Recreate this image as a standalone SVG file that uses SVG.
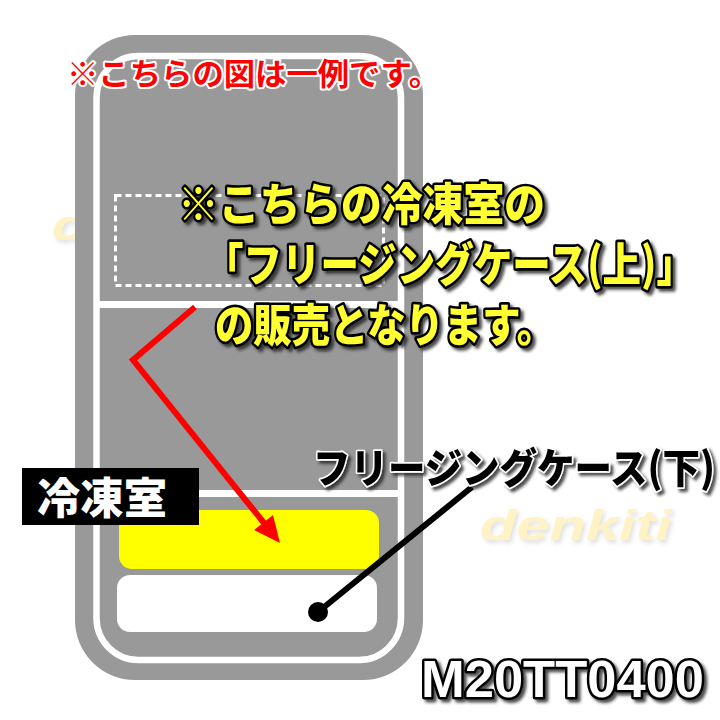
<svg xmlns="http://www.w3.org/2000/svg" width="720" height="720" viewBox="0 0 720 720">
<defs>
<style>
.jp{font-family:"Noto Sans CJK JP","Noto Sans",sans-serif;}
.wm{font-family:"Liberation Sans",Arial,sans-serif;font-weight:bold;font-style:italic;font-size:42px;fill:#fff2c4;}
.yel{fill:#ffff33;stroke:#000;stroke-width:4.5;paint-order:stroke;stroke-linejoin:round;font-weight:900;}
</style>
<filter id="sh" x="-10%" y="-20%" width="130%" height="150%">
<feDropShadow dx="3" dy="3" stdDeviation="1.5" flood-color="#222" flood-opacity="0.8"/>
</filter>
<filter id="wsh" x="-10%" y="-20%" width="130%" height="150%">
<feDropShadow dx="2" dy="3" stdDeviation="2" flood-color="#ccc" flood-opacity="0.6"/>
</filter>
</defs>
<rect width="720" height="720" fill="#fff"/>
<g id="watermarks" filter="url(#wsh)">
<text class="wm" x="52" y="240" textLength="190" lengthAdjust="spacingAndGlyphs">denkiti</text>
<text class="wm" x="480" y="540" textLength="192" lengthAdjust="spacingAndGlyphs">denkiti</text>
</g>
<g id="fridge">
<rect x="75" y="35" width="348" height="645" rx="60" fill="#999"/>
<rect x="96.5" y="56" width="304.5" height="604" rx="42" fill="#999" stroke="#fff" stroke-width="6.5"/>
<line x1="96" y1="304.5" x2="401" y2="304.5" stroke="#fff" stroke-width="7"/>
<line x1="96" y1="493.5" x2="401" y2="493.5" stroke="#fff" stroke-width="7"/>
<rect x="115.5" y="195.5" width="268" height="90" fill="none" stroke="#fff" stroke-width="3" stroke-dasharray="6 4"/>
</g>
<g id="case-upper">
<rect x="119" y="510" width="260" height="59" rx="13" fill="#ffff00"/>
</g>
<g id="case-lower">
<rect x="117" y="575" width="260" height="57" rx="13" fill="#fff"/>
</g>
<g id="note-top">
<text class="jp" x="67" y="85" font-size="31" font-weight="700" fill="#ff0000" stroke="#fff" stroke-width="4" paint-order="stroke" stroke-linejoin="round" textLength="373" lengthAdjust="spacingAndGlyphs">※こちらの図は一例です。</text>
</g>
<g id="freezer-label">
<rect x="22" y="468" width="177" height="57" fill="#000"/>
<text class="jp" x="37" y="514" font-size="43" font-weight="900" fill="#fff" textLength="130" lengthAdjust="spacingAndGlyphs">冷凍室</text>
</g>
<g id="connectors">
<polyline points="195,307 133,360 264,523" fill="none" stroke="#ff0000" stroke-width="6" stroke-linejoin="miter"/>
<polygon points="280,543 254,530 273,515" fill="#ff0000"/>
<line x1="472" y1="487" x2="318" y2="612" stroke="#000" stroke-width="6"/>
<circle cx="318" cy="612" r="10" fill="#000"/>
</g>
<g id="main-note" class="jp" filter="url(#sh)">
<text class="yel" transform="translate(178,221) scale(1,1.13)" x="0" y="0" font-size="40.5" textLength="367" lengthAdjust="spacingAndGlyphs">※こちらの冷凍室の</text>
<text class="yel" transform="translate(205,281) scale(1,1.18)" x="0" y="0" font-size="39" textLength="490" lengthAdjust="spacingAndGlyphs">「フリージングケース(上)」</text>
<text class="yel" transform="translate(215,342) scale(1,1.2)" x="0" y="0" font-size="37.5" textLength="340" lengthAdjust="spacingAndGlyphs">の販売となります。</text>
</g>
<g id="lower-label" filter="url(#sh)">
<text class="jp" transform="translate(313,483) scale(1,1.1)" x="0" y="0" font-size="37.5" font-weight="900" fill="#000" stroke="#fff" stroke-width="3" paint-order="stroke" stroke-linejoin="round" textLength="402" lengthAdjust="spacingAndGlyphs">フリージングケース(下)</text>
</g>
<g id="model" filter="url(#sh)">
<text x="421" y="697" font-family="'Liberation Sans',Arial,sans-serif" font-weight="bold" font-size="52" fill="#fff" stroke="#000" stroke-width="5" paint-order="stroke" stroke-linejoin="round" textLength="283" lengthAdjust="spacingAndGlyphs">M20TT0400</text>
</g>
</svg>
